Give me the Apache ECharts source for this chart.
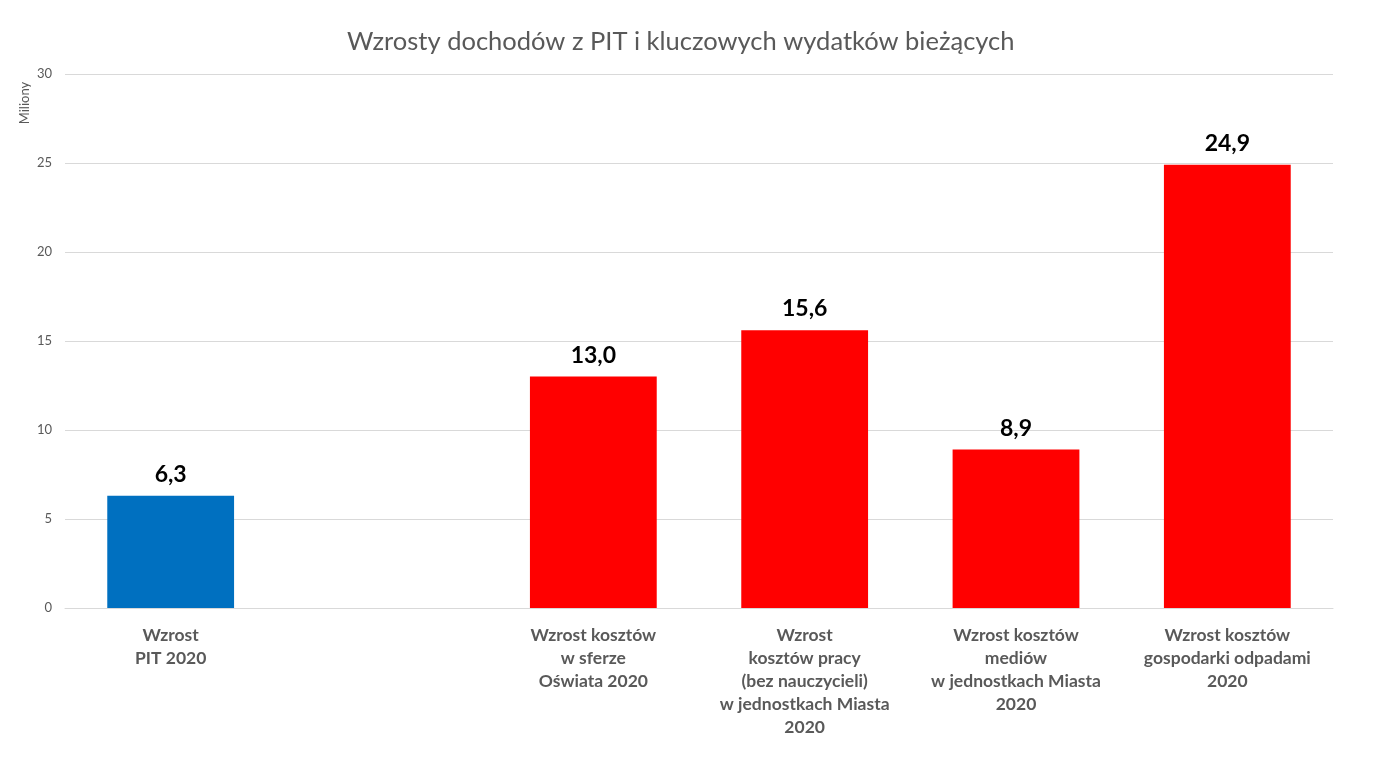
<!DOCTYPE html>
<html><head><meta charset="utf-8">
<script src="https://cdn.jsdelivr.net/npm/echarts@6/dist/echarts.min.js"></script>
<style>html,body{margin:0;padding:0;background:#fff}#c{width:1385px;height:773px}</style>
</head><body><div id="c"></div>
<script>
const categories = ["Wzrost\nPIT 2020", "", "Wzrost kosztów\nw sferze\nOświata 2020", "Wzrost\nkosztów pracy\n(bez nauczycieli)\nw jednostkach Miasta\n2020", "Wzrost kosztów\nmediów\nw jednostkach Miasta\n2020", "Wzrost kosztów\ngospodarki odpadami\n2020"];
const values = [6.3, null, 13.0, 15.6, 8.9, 24.9];
const colors = ["#0070C0", "#FF0000", "#FF0000", "#FF0000", "#FF0000", "#FF0000"];
const yTicks = [0, 5, 10, 15, 20, 25, 30];
const yName = "Miliony";

const chart = echarts.init(document.getElementById('c'));
chart.setOption({
  animation: false,
  title: {
    text: "Wzrosty dochodów z PIT i kluczowych wydatków bieżących",
    left: 342, top: 24,
    textStyle: {fontFamily: 'Lato', fontSize: 25.5, fontWeight: 'normal', color: '#595959'}
  },
  graphic: [{
    type: 'text', x: 25, y: 103, rotation: Math.PI / 2,
    style: {text: yName, fontFamily: 'Lato', fontSize: 13, fill: '#595959', align: 'center', verticalAlign: 'middle'}
  }],
  grid: {left: 65, right: 52, top: 74, bottom: 165},
  xAxis: {
    type: 'category', data: categories,
    axisLine: {lineStyle: {color: '#D9D9D9'}}, axisTick: {show: false},
    axisLabel: {interval: 0, margin: 16, fontFamily: 'Lato', fontSize: 17.5, fontWeight: 'bold', color: '#595959', lineHeight: 23}
  },
  yAxis: {
    type: 'value', min: yTicks[0], max: yTicks[yTicks.length-1], interval: 5,
    axisLine: {show: false}, axisTick: {show: false},
    splitLine: {lineStyle: {color: '#D9D9D9'}},
    axisLabel: {fontFamily: 'Lato', fontSize: 13, color: '#595959', margin: 13}
  },
  series: [{
    type: 'bar', barWidth: '60%',
    data: values.map((v, i) => ({value: v, itemStyle: {color: colors[i]}})),
    label: {show: true, position: 'top', distance: 10, fontFamily: 'Lato', fontSize: 23, fontWeight: 'bold', color: '#000',
      formatter: p => p.value == null ? '' : p.value.toFixed(1).replace('.', ',')}
  }]
});
</script></body></html>
